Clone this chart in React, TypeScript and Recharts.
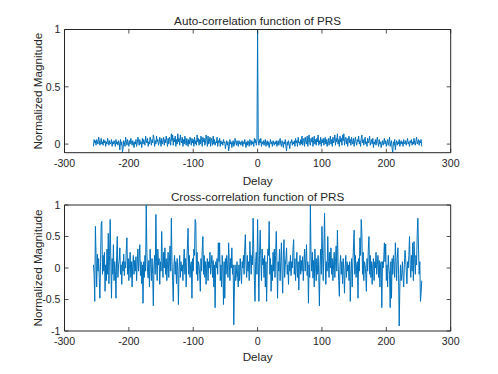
import React from 'react';
import { LineChart, Line, XAxis, YAxis, ReferenceLine } from 'recharts';

// auto-correlation at positive lags 1..255 (the function is symmetric, lag 0 = 1)
const autoPos = [
  0.03, -0.01, 0.04, 0.01, 0.05, -0.02, 0.02, 0.0, 0.03, -0.01, 0.02, 0.04, -0.02, 0.01, 0.03,
  -0.01, 0.02, -0.03, 0.01, 0.04, 0.0, 0.02, -0.02, 0.03, 0.01, -0.01, 0.02, 0.0, 0.03, -0.02,
  0.01, 0.03, -0.01, 0.02, 0.05, 0.0, -0.02, 0.03, 0.01, -0.03, 0.02, 0.0, 0.04, -0.02, -0.06,
  0.02, -0.01, 0.03, 0.0, -0.04, 0.02, 0.01, 0.04, -0.01, 0.02, 0.0, 0.03, -0.02, 0.05, 0.01,
  0.03, -0.02, 0.06, 0.01, 0.02, -0.01, 0.04, 0.0, 0.07, -0.01, 0.03, 0.05, -0.02, 0.06, 0.02,
  0.0, 0.07, -0.02, 0.04, 0.08, 0.01, -0.01, 0.05, 0.02, 0.06, -0.02, 0.03, 0.07, 0.0, 0.04,
  -0.01, 0.05, 0.02, 0.08, -0.01, 0.03, 0.0, 0.06, -0.02, 0.04, 0.01, 0.05, -0.01, 0.03, 0.06,
  0.0, 0.04, -0.02, 0.02, 0.05, -0.01, 0.03, 0.07, 0.0, 0.04, -0.02, 0.06, 0.01, 0.03, 0.08,
  -0.01, 0.05, 0.02, 0.09, 0.0, 0.04, -0.02, 0.07, 0.02, 0.05, -0.01, 0.08, 0.03, 0.09, -0.01,
  0.04, 0.06, 0.0, 0.05, -0.02, 0.03, 0.07, 0.01, 0.04, -0.01, 0.06, 0.02, 0.0, 0.05, -0.02,
  0.03, 0.06, 0.01, -0.01, 0.04, 0.02, 0.07, 0.0, 0.03, -0.02, 0.05, 0.08, 0.01, 0.04, -0.01,
  0.03, 0.06, 0.0, 0.02, -0.02, 0.05, 0.01, 0.03, 0.07, -0.01, 0.02, 0.04, 0.0, 0.05, -0.03,
  0.02, 0.0, 0.04, -0.01, 0.03, 0.06, 0.01, -0.02, 0.04, 0.0, 0.02, -0.03, 0.01, 0.03, -0.01,
  0.02, 0.05, 0.0, 0.03, -0.02, 0.01, 0.04, -0.01, 0.02, 0.06, -0.02, 0.01, 0.03, -0.04, -0.07,
  0.02, -0.01, 0.04, -0.05, 0.01, 0.03, -0.01, 0.02, 0.0, 0.04, -0.02, 0.01, 0.03, 0.0, 0.02,
  -0.02, 0.04, 0.01, 0.0, 0.03, -0.01, 0.02, 0.05, 0.0, 0.02, -0.02, 0.03, 0.01, 0.04, -0.01,
  0.02, 0.0, 0.05, 0.01, -0.01, 0.03, 0.06, 0.0, 0.02, 0.04, -0.01, 0.03, 0.01, 0.04, -0.02,
];

// cross-correlation, delays -255..0
const crossNeg = [
  0.05, -0.1, -0.53, 0.66, 0.2, -0.3, 0.22, -0.05, 0.15, -0.15, -0.48, 0.1, 0.7, 0.74, -0.1, 0.2,
  -0.05, 0.25, -0.37, 0.05, -0.2, 0.3, -0.1, 0.55, -0.25, 0.2, 0.77, 0.1, -0.48, 0.15, -0.1, 0.37,
  -0.2, 0.1, -0.05, -0.48, 0.2, 0.5, -0.15, 0.05, 0.12, 0.32, -0.1, 0.05, -0.26, 0.1, -0.05, 0.22,
  -0.12, 0.1, 0.0, 0.3, 0.48, -0.1, 0.15, -0.2, 0.05, 0.25, -0.15, 0.1, -0.3, 0.05, 0.2, -0.1,
  0.12, -0.05, 0.18, -0.2, 0.08, 0.3, -0.05, 0.15, 0.37, -0.12, 0.1, -0.25, 0.05, -0.56, 0.1, -0.15,
  0.2, -0.05, 1.0, 0.25, -0.05, -0.16, 0.12, -0.3, 0.3, 0.05, -0.2, 0.15, -0.1, -0.6, 0.05, 0.2,
  -0.1, 0.85, 0.1, -0.2, 0.3, 0.05, 0.15, -0.26, 0.1, -0.05, 0.58, 0.1, -0.15, 0.25, 0.0, 0.32,
  -0.1, 0.15, -0.2, 0.05, 0.25, -0.15, 0.1, 0.35, -0.05, 0.79, 0.1, -0.2, -0.53, 0.05, 0.2, -0.1,
  0.1, -0.25, 0.15, -0.05, -0.58, 0.0, 0.2, -0.15, 0.1, -0.05, 0.05, -0.2, 0.1, 0.3, -0.1, 0.15,
  -0.3, 0.1, 0.35, 0.63, -0.1, 0.2, -0.15, 0.05, 0.1, -0.48, 0.15, -0.05, 0.3, 0.2, 0.77, 0.72,
  -0.1, 0.25, -0.2, 0.1, 0.05, -0.1, -0.37, 0.15, -0.05, 0.3, 0.5, -0.1, 0.2, -0.15, 0.1, -0.26,
  0.05, 0.15, -0.2, 0.1, 0.0, 0.25, -0.1, 0.05, 0.2, -0.15, 0.12, -0.3, 0.05, -0.63, 0.1, 0.0,
  0.15, -0.1, 0.4, 0.1, 0.4, -0.2, 0.05, -0.3, 0.2, 0.0, -0.58, 0.1, -0.48, 0.15, -0.1, 0.2,
  0.05, -0.15, 0.4, 0.1, -0.2, 0.15, 0.0, 0.32, -0.1, 0.05, -0.9, -0.3, 0.05, -0.2, -0.1, 0.1,
  -0.15, -0.3, 0.05, -0.2, 0.15, -0.05, -0.25, 0.1, 0.0, 0.2, -0.1, 0.3, 0.53, 0.05, -0.15, 0.2,
  -0.05, 0.1, -0.2, 0.42, 0.15, -0.1, 0.2, 0.05, 0.79, 0.3, -0.2, -0.53, 0.1, 0.25, -0.1, 0.77,
];

// cross-correlation, delays 1..255
const crossPos = [
  0.1, -0.53, 0.2, 0.6, 0.15, -0.2, 0.3, 0.05, 0.15, -0.15, 0.2, -0.3, 0.1, -0.53, 0.05,
  0.3, 0.2, 0.74, -0.1, 0.15, -0.37, 0.05, -0.2, 0.25, -0.05, 0.3, -0.15, 0.2, 0.58, 0.1,
  -0.48, 0.1, -0.05, 0.3, -0.2, 0.1, 0.4, -0.1, -0.4, 0.2, 0.45, -0.15, 0.05, 0.15, 0.32,
  -0.1, 0.05, -0.26, 0.1, -0.05, 0.2, -0.12, 0.1, 0.0, 0.3, 0.45, -0.1, 0.15, -0.2, 0.05,
  0.25, -0.15, 0.1, -0.35, 0.05, 0.2, -0.1, 0.12, -0.05, 0.18, -0.2, 0.08, 0.3, -0.05, 0.15,
  0.37, -0.12, 0.1, -0.56, 0.05, -0.15, 1.0, 0.2, -0.05, 0.25, -0.16, 0.12, -0.3, 0.3, 0.05,
  -0.2, 0.15, -0.1, 0.2, -0.1, -0.6, 0.05, 0.3, -0.1, 0.66, 0.2, -0.2, 0.3, 0.87, 0.15,
  -0.26, 0.1, -0.05, 0.5, 0.1, -0.15, 0.25, 0.0, 0.32, -0.1, 0.15, -0.2, 0.05, 0.25, -0.15,
  0.1, 0.35, -0.05, 0.6, 0.1, -0.2, -0.45, 0.05, 0.2, -0.1, 0.1, -0.25, 0.15, -0.05, -0.4,
  0.0, 0.2, -0.15, 0.1, -0.05, 0.05, -0.2, 0.1, -0.53, -0.1, 0.15, -0.3, 0.1, 0.35, 0.6,
  -0.1, 0.2, -0.15, 0.05, 0.1, -0.48, 0.15, -0.05, 0.48, 0.2, 0.77, 0.55, -0.1, 0.25, -0.2,
  0.1, 0.05, -0.1, -0.37, 0.15, -0.05, 0.3, 0.5, -0.1, 0.2, -0.15, 0.1, -0.26, 0.05, 0.15,
  -0.2, 0.1, 0.0, 0.25, -0.1, 0.05, 0.2, -0.15, 0.12, -0.3, 0.05, 0.1, -0.63, 0.1, 0.0,
  0.15, 0.4, 0.1, 0.38, -0.2, 0.05, -0.3, 0.2, 0.0, -0.1, -0.63, 0.1, -0.48, 0.15, -0.1,
  0.2, 0.05, -0.15, 0.4, 0.1, -0.2, 0.15, 0.32, -0.1, -0.92, -0.3, 0.05, -0.2, -0.1, 0.1,
  -0.15, -0.3, 0.05, 0.28, 0.15, -0.05, -0.25, 0.1, 0.0, 0.2, 0.5, 0.05, -0.15, 0.2, -0.05,
  0.4, -0.2, 0.42, 0.15, -0.1, 0.2, 0.05, 0.55, 0.79, 0.3, -0.1, 0.1, -0.53, -0.4, -0.2,
];

const delayTicks = [-300, -200, -100, 0, 100, 200, 300];
const autoTicks = [0, 0.5, 1];
const crossTicks = [-1, -0.5, 0, 0.5, 1];

const autoValues = [...autoPos.slice().reverse(), 1, ...autoPos];
const crossValues = [...crossNeg, ...crossPos];
const autoData = autoValues.map((v, i) => ({ delay: i - 255, value: v }));
const crossData = crossValues.map((v, i) => ({ delay: i - 255, value: v }));

const INK = '#262626';
const BLUE = '#0072BD';
const FONT = '"Liberation Sans", Arial, Helvetica, sans-serif';
const PLOT_LEFT = 64.5;
const PLOT_RIGHT = 450.7;
const TICK_LEN = 4;

interface PanelProps {
  top: number;
  height: number;
  plotTop: number;
  plotBottom: number;
  data: { delay: number; value: number }[];
  yDomain: [number, number];
  yTicks: number[];
}

const Panel: React.FC<PanelProps> = ({ top, height, plotTop, plotBottom, data, yDomain, yTicks }) => {
  // MATLAB-style ticks: pointing inward, mirrored on the opposite side of the box
  const xTick = (props: any) => {
    const { x, y, payload } = props;
    return (
      <g>
        <line x1={x} y1={y} x2={x} y2={y - TICK_LEN} stroke={INK} strokeWidth={0.8} />
        <line x1={x} y1={plotTop} x2={x} y2={plotTop + TICK_LEN} stroke={INK} strokeWidth={0.8} />
        <text x={x} y={y + 14.3} textAnchor="middle" fill={INK} fontSize={10.6} fontFamily={FONT}>
          {payload.value}
        </text>
      </g>
    );
  };
  const yTick = (props: any) => {
    const { x, y, payload } = props;
    return (
      <g>
        <line x1={x} y1={y} x2={x + TICK_LEN} y2={y} stroke={INK} strokeWidth={0.8} />
        <line x1={PLOT_RIGHT} y1={y} x2={PLOT_RIGHT - TICK_LEN} y2={y} stroke={INK} strokeWidth={0.8} />
        <text x={x - 4} y={y + 3.8} textAnchor="end" fill={INK} fontSize={10.6} fontFamily={FONT}>
          {payload.value}
        </text>
      </g>
    );
  };
  return (
    <div style={{ position: 'absolute', left: 0, top }}>
      <LineChart
        width={498}
        height={height}
        data={data}
        margin={{ top: plotTop - top, right: 498 - PLOT_RIGHT, bottom: 0, left: 0 }}
      >
        <XAxis
          dataKey="delay"
          type="number"
          domain={[-300, 300]}
          ticks={delayTicks}
          interval={0}
          allowDataOverflow
          height={top + height - plotBottom}
          stroke={INK}
          tickLine={false}
          tickSize={0}
          tickMargin={0}
          tick={xTick}
        />
        <YAxis
          type="number"
          domain={yDomain}
          ticks={yTicks}
          interval={0}
          allowDataOverflow
          width={PLOT_LEFT}
          stroke={INK}
          tickLine={false}
          tickSize={0}
          tickMargin={0}
          tick={yTick}
        />
        <ReferenceLine y={yDomain[1]} stroke={INK} strokeWidth={1} />
        <ReferenceLine x={300} stroke={INK} strokeWidth={1} />
        <Line
          type="linear"
          dataKey="value"
          stroke={BLUE}
          strokeWidth={1}
          dot={false}
          activeDot={false}
          isAnimationActive={false}
        />
      </LineChart>
    </div>
  );
};

const labelStyle = { fill: INK, fontSize: 11.7, fontFamily: FONT };

const App: React.FC = () => {
  return (
    <div style={{ position: 'absolute', left: 0, top: 0, width: 498, height: 374, background: '#ffffff' }}>
      <Panel top={0} height={190} plotTop={29.5} plotBottom={152.7} data={autoData} yDomain={[-0.075, 1]} yTicks={autoTicks} />
      <Panel top={190} height={184} plotTop={205} plotBottom={331} data={crossData} yDomain={[-1, 1]} yTicks={crossTicks} />
      <svg width={498} height={374} style={{ position: 'absolute', left: 0, top: 0, pointerEvents: 'none' }}>
        <text x={257.6} y={24.5} textAnchor="middle" {...labelStyle}>Auto-correlation function of PRS</text>
        <text x={257.6} y={184.5} textAnchor="middle" {...labelStyle}>Delay</text>
        <text transform="translate(41.5 91.1) rotate(-90)" textAnchor="middle" {...labelStyle}>Normalized Magnitude</text>
        <text x={257.6} y={200.5} textAnchor="middle" {...labelStyle}>Cross-correlation function of PRS</text>
        <text x={257.6} y={361} textAnchor="middle" {...labelStyle}>Delay</text>
        <text transform="translate(41.5 268) rotate(-90)" textAnchor="middle" {...labelStyle}>Normalized Magnitude</text>
      </svg>
    </div>
  );
};

export default App;
